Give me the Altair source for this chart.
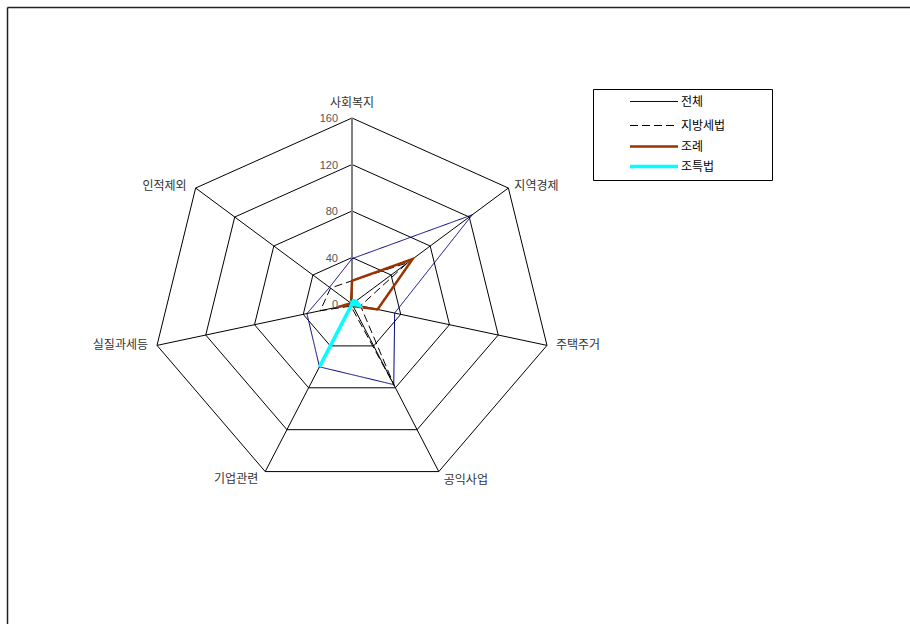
import altair as alt
import numpy as np
import pandas as pd

# ---------------- data ----------------
categories = ["사회복지", "지역경제", "주택주거", "공익사업", "기업관련", "실질과세등", "인적제외"]
series_names = ["전체", "지방세법", "조례", "조특법"]
v_total = [39, 123, 35, 77, 60, 37, 23]
v_local = [20, 57, 7, 78, 2, 26, 22]
v_ordinance = [20, 62, 21, 2, 0, 11, 1]
v_special = [3, 4, 6, 0, 60, 0, 0]
ring_levels = [40, 80, 120, 160]
tick_values = [0, 40, 80, 120, 160]
tick_labels = ["0", "40", "80", "120", "160"]
RMAX = 160

series_values = [v_total, v_local, v_ordinance, v_special]
series_color = ["#000080", "#000000", "#993300", "#00FFFF"]
series_width = [1, 1, 2.5, 3.5]
series_dash = [[1, 0], [8, 4], [1, 0], [1, 0]]

n = len(categories)
ang = np.arange(n) * 2 * np.pi / n


def px(v, i):
    return float(v * np.sin(ang[i]))


def py(v, i):
    return float(v * np.cos(ang[i]))


W, H = 400, 372
xs = alt.Scale(domain=[-RMAX, RMAX], nice=False, zero=False)
ys = alt.Scale(domain=[-RMAX, RMAX], nice=False, zero=False)

# rings
ring_rows = []
for r in ring_levels:
    for k in range(n + 1):
        i = k % n
        ring_rows.append({"ring": r, "k": k, "x": px(r, i), "y": py(r, i)})
rings = alt.Chart(pd.DataFrame(ring_rows)).mark_line(color="#000000", strokeWidth=1).encode(
    x=alt.X("x:Q", scale=xs, axis=None),
    y=alt.Y("y:Q", scale=ys, axis=None),
    detail="ring:N",
    order="k:Q",
)

# spokes
spoke_rows = [{"cat": categories[i], "i": i, "x": 0.0, "y": 0.0,
               "x2": px(RMAX, i), "y2": py(RMAX, i)} for i in range(n)]
spoke_df = pd.DataFrame(spoke_rows)
spokes = alt.Chart(spoke_df[spoke_df.i > 0]).mark_rule(color="#000000", strokeWidth=1).encode(
    x=alt.X("x:Q", scale=xs, axis=None), y=alt.Y("y:Q", scale=ys, axis=None),
    x2="x2:Q", y2="y2:Q",
)
value_axis = alt.Chart(spoke_df[spoke_df.i == 0]).mark_rule(color="#808080", strokeWidth=2).encode(
    x=alt.X("x:Q", scale=xs, axis=None), y=alt.Y("y:Q", scale=ys, axis=None),
    x2="x2:Q", y2="y2:Q",
)

# tick labels on value axis
tick_df = pd.DataFrame({"x": [0.0] * len(tick_values), "y": tick_values, "t": tick_labels})
ticks = alt.Chart(tick_df).mark_text(
    align="right", baseline="middle", dx=-14, dy=1, fontSize=11,
    font="Liberation Sans", color="#555555",
).encode(x=alt.X("x:Q", scale=xs, axis=None), y=alt.Y("y:Q", scale=ys, axis=None), text="t:N")

# category labels
label_style = [
    ("center", 0, -15),
    ("left", 6, -2),
    ("left", 9, 0),
    ("left", 5, 8),
    ("right", -7, 7),
    ("right", -9, 0),
    ("right", -9, -2),
]
cat_layers = []
for i in range(n):
    al, dx, dy = label_style[i]
    d = pd.DataFrame({"x": [px(RMAX, i)], "y": [py(RMAX, i)], "t": [categories[i]]})
    cat_layers.append(
        alt.Chart(d).mark_text(
            align=al, baseline="middle", dx=dx, dy=dy, fontSize=12,
            font="Noto Sans CJK KR", color="#333333",
        ).encode(x=alt.X("x:Q", scale=xs, axis=None), y=alt.Y("y:Q", scale=ys, axis=None), text="t:N")
    )

# series
series_layers = []
for s, vals in enumerate(series_values):
    rows = []
    for k in range(n + 1):
        i = k % n
        rows.append({"k": k, "x": px(vals[i], i), "y": py(vals[i], i), "cat": categories[i], "v": vals[i]})
    series_layers.append(
        alt.Chart(pd.DataFrame(rows)).mark_line(
            color=series_color[s], strokeWidth=series_width[s], strokeDash=series_dash[s],
        ).encode(
            x=alt.X("x:Q", scale=xs, axis=None), y=alt.Y("y:Q", scale=ys, axis=None), order="k:Q",
        )
    )

# manual legend (pixel positions relative to plot origin)
PL, PT = 152, 118
legend_box = alt.Chart(pd.DataFrame({"a": [0]})).mark_rect(
    fill="#ffffff", stroke="#000000", strokeWidth=1
).encode(
    x=alt.value(593.5 - PL), x2=alt.value(772.5 - PL),
    y=alt.value(89.5 - PT), y2=alt.value(180.5 - PT),
)
legend_rows_y = [101, 125, 146, 166]
legend_layers = [legend_box]
for s in range(len(series_names)):
    yy = legend_rows_y[s] - PT
    legend_layers.append(
        alt.Chart(pd.DataFrame({"a": [0]})).mark_rule(
            color=series_color[s], strokeWidth=series_width[s], strokeDash=series_dash[s],
        ).encode(x=alt.value(630 - PL), x2=alt.value(678 - PL), y=alt.value(yy + 0.5))
    )
    legend_layers.append(
        alt.Chart(pd.DataFrame({"t": [series_names[s]]})).mark_text(
            align="left", baseline="middle", dy=1, fontSize=12, font="Noto Sans CJK KR", color="#000000",
        ).encode(x=alt.value(681 - PL), y=alt.value(yy), text="t:N")
    )

# outer frame (left and top edges visible)
frame_left = alt.Chart(pd.DataFrame({"a": [0]})).mark_rule(color="#222222", strokeWidth=1.5).encode(
    x=alt.value(7.5 - PL), y=alt.value(7.5 - PT), y2=alt.value(624 - PT)
)
frame_top = alt.Chart(pd.DataFrame({"a": [0]})).mark_rule(color="#222222", strokeWidth=1.5).encode(
    x=alt.value(7.5 - PL), x2=alt.value(910 - PL), y=alt.value(7.5 - PT)
)

chart = alt.layer(
    frame_left, frame_top, rings, spokes, value_axis, ticks, *cat_layers, *series_layers, *legend_layers
).properties(
    width=W, height=H,
    padding={"left": PL, "top": PT, "right": 910 - PL - W, "bottom": 624 - PT - H},
    autosize=alt.AutoSizeParams(type="none"),
    background="#ffffff",
).configure_view(strokeWidth=0)

chart.save("out.html", embed_options={"renderer": "svg", "actions": False})
